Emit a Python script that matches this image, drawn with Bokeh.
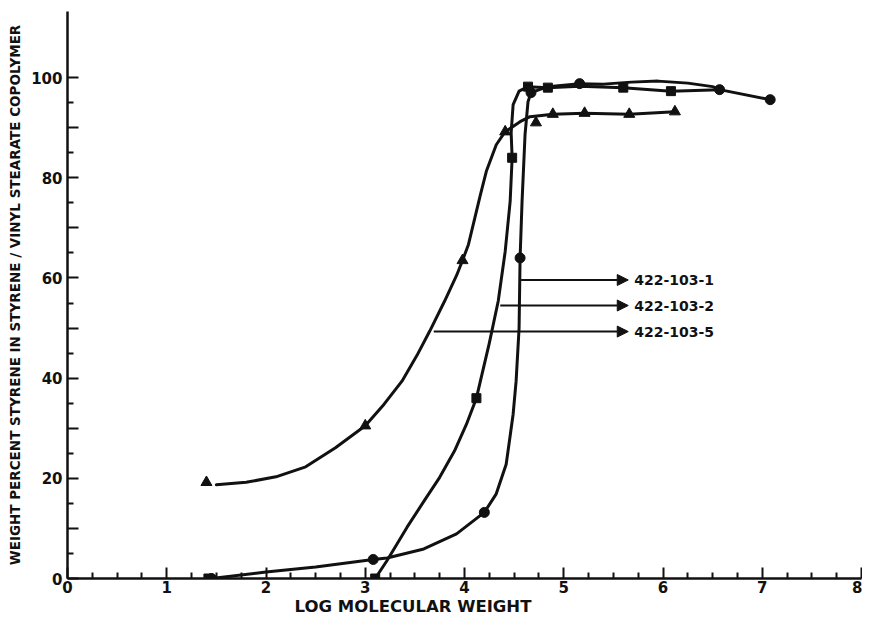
from bokeh.plotting import figure
from bokeh.models import (ColumnDataSource, FixedTicker, Range1d, Title, Arrow,
                          NormalHead)
from bokeh.core.properties import value
from bokeh.embed import file_html
from bokeh.resources import INLINE

# ---------------- data ----------------
# markers, sample 422-103-1 (circles)
circle_x = [1.45, 3.08, 4.20, 4.56, 4.67, 5.16, 6.57, 7.08]
circle_y = [0.0, 3.8, 13.2, 64.0, 97.0, 98.8, 97.6, 95.6]
# markers, sample 422-103-2 (squares)
square_x = [1.42, 3.10, 4.12, 4.48, 4.64, 4.84, 5.60, 6.08]
square_y = [0.0, 0.0, 36.0, 84.0, 98.2, 98.0, 98.0, 97.3]
# markers, sample 422-103-5 (triangles)
triangle_x = [1.40, 3.00, 3.98, 4.41, 4.72, 4.89, 5.21, 5.66, 6.12]
triangle_y = [19.2, 30.5, 63.5, 89.2, 91.0, 92.7, 92.9, 92.7, 93.2]

# hand-drawn curves
curve1_x = [1.45, 2.0, 2.5, 3.08, 3.22, 3.59, 3.92, 4.20, 4.32, 4.42, 4.49, 4.52,
            4.55, 4.56, 4.58, 4.61, 4.64, 4.67, 4.84, 5.16, 5.40, 5.68, 5.95,
            6.25, 6.50, 6.57, 7.08]
curve1_y = [0.0, 1.3, 2.3, 3.8, 4.1, 5.9, 8.9, 13.2, 16.9, 22.8, 32.8, 39.4,
            50.0, 64.0, 75.3, 88.6, 95.2, 97.0, 98.2, 98.8, 98.7, 99.1, 99.3,
            98.9, 98.2, 97.6, 95.6]
curve2_x = [3.10, 3.22, 3.42, 3.60, 3.75, 3.90, 4.02, 4.12, 4.16, 4.25, 4.34,
            4.41, 4.46, 4.48, 4.47, 4.49, 4.55, 4.64, 4.84, 5.16, 5.60, 6.08, 6.57]
curve2_y = [0.0, 3.6, 10.2, 15.7, 20.2, 25.5, 30.8, 36.0, 39.4, 47.0, 55.4,
            65.3, 75.3, 84.0, 89.0, 94.6, 97.3, 98.2, 98.0, 98.3, 98.0, 97.3, 97.6]
curve3_x = [1.50, 1.80, 2.10, 2.40, 2.70, 3.00, 3.19, 3.37, 3.52, 3.65, 3.80,
            3.92, 3.98, 4.04, 4.16, 4.22, 4.32, 4.41, 4.56, 4.66, 4.89, 5.21, 5.66, 6.12]
curve3_y = [18.7, 19.2, 20.3, 22.3, 26.1, 30.5, 34.8, 39.4, 44.5, 49.4, 55.4,
            60.5, 63.5, 66.7, 76.6, 81.3, 86.6, 89.2, 91.2, 92.2, 92.7, 92.9, 92.7, 93.2]

# curve labels with arrows
sample_names = ["422-103-1", "422-103-2", "422-103-5"]
arrow_start_x = [4.57, 4.36, 3.69]
arrow_y = [59.6, 54.5, 49.3]
arrow_end_x = [5.65, 5.65, 5.65]
label_x = [5.71, 5.71, 5.71]

x_ticks = [0, 1, 2, 3, 4, 5, 6, 7, 8]
x_minor = [i / 4 for i in range(0, 33) if i % 4 != 0]
y_ticks = [0, 10, 20, 30, 40, 50, 60, 70, 80, 90, 100]
y_minor = [5, 15, 25, 35, 45, 55, 65, 75, 85, 95]
y_tick_labels = {10: "", 30: "", 50: "", 70: "", 90: ""}

x_title = "LOG MOLECULAR WEIGHT"
y_title = "WEIGHT PERCENT STYRENE IN STYRENE / VINYL STEARATE COPOLYMER"

FONT = "DejaVu Sans"
INK = "#111111"

# ---------------- figure ----------------
p = figure(width=862, height=616, output_backend="svg", toolbar_location=None,
           x_range=Range1d(0, 8.0), y_range=Range1d(0, 113.2),
           min_border_left=67, min_border_right=1, min_border_top=11,
           min_border_bottom=38)
p.outline_line_color = None
p.xgrid.grid_line_color = None
p.ygrid.grid_line_color = None
p.background_fill_color = "white"
p.border_fill_color = "white"

for ax in (p.xaxis[0], p.yaxis[0]):
    ax.axis_line_width = 2.5
    ax.axis_line_color = INK
    ax.major_tick_line_width = 2
    ax.minor_tick_line_width = 2
    ax.major_tick_line_color = INK
    ax.minor_tick_line_color = INK
    ax.major_tick_out = 0
    ax.minor_tick_out = 0
    ax.major_label_text_font = FONT
    ax.major_label_text_font_style = "bold"
    ax.major_label_text_font_size = "15px"
    ax.major_label_text_color = INK

p.xaxis.ticker = FixedTicker(ticks=x_ticks, minor_ticks=x_minor)
p.xaxis.major_tick_in = 11
p.xaxis.minor_tick_in = 6
p.xaxis.major_label_standoff = 2

p.yaxis.ticker = FixedTicker(ticks=y_ticks, minor_ticks=y_minor)
p.yaxis.major_label_overrides = y_tick_labels
p.yaxis.major_tick_in = 11
p.yaxis.minor_tick_in = 6
p.yaxis.major_label_standoff = 5
p.yaxis.axis_label = y_title
p.yaxis.axis_label_text_font = FONT
p.yaxis.axis_label_text_font_style = "bold"
p.yaxis.axis_label_text_font_size = "13.5px"
p.yaxis.axis_label_text_color = INK
p.yaxis.axis_label_standoff = 5

# x-axis title, shifted left like the reference
p.add_layout(Title(text=x_title, align="left", offset=227, text_font=FONT,
                   text_font_style="bold", text_font_size="16.5px",
                   text_color=INK, standoff=-1), "below")

# curves
for cx, cy in ((curve1_x, curve1_y), (curve2_x, curve2_y), (curve3_x, curve3_y)):
    p.line(cx, cy, line_color=INK, line_width=3, line_join="round", line_cap="round")

# markers
p.scatter(circle_x, circle_y, marker="circle", size=10, fill_color=INK, line_color=INK)
p.scatter(square_x, square_y, marker="square", size=9, fill_color=INK, line_color=INK)
p.scatter(triangle_x, triangle_y, marker="triangle", size=11, fill_color=INK, line_color=INK)

# arrows and sample labels
asrc = ColumnDataSource(dict(x0=arrow_start_x, y=arrow_y, x1=arrow_end_x,
                             lx=label_x, name=sample_names))
p.add_layout(Arrow(end=NormalHead(size=11, fill_color=INK, line_color=INK, line_width=1),
                   x_start="x0", y_start="y", x_end="x1", y_end="y",
                   line_color=INK, line_width=2, source=asrc))
p.text(x="lx", y="y", text="name", source=asrc, text_font=value(FONT),
       text_font_style="bold", text_font_size="14px", text_color=INK,
       text_align="left", text_baseline="middle")

open("out.html", "w").write(file_html(p, INLINE))
